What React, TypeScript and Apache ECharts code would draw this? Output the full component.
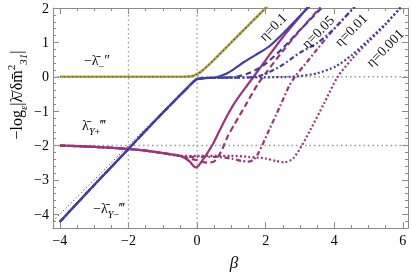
import React, { useEffect, useRef } from 'react';
import * as echarts from 'echarts';

const SERIF = '"Liberation Serif", "DejaVu Serif", serif';
const BLUE = '#3f3fa8';
const PURPLE = '#9e3477';
const OLIVE = '#b3a548';
const OLIVE_DOT = '#5e5630';

// axis ticks
const xTickLabels = [-4, -2, 0, 2, 4, 6];
const xMinorTicks = [-4, -3.5, -3, -2.5, -2, -1.5, -1, -0.5, 0, 0.5, 1, 1.5, 2, 2.5, 3, 3.5, 4, 4.5, 5, 5.5, 6];
const yTickLabels = [-4, -3, -2, -1, 0, 1, 2];
const yMinorTicks = [-4.4, -4.2, -4, -3.8, -3.6, -3.4, -3.2, -3, -2.8, -2.6, -2.4, -2.2, -2, -1.8, -1.6, -1.4, -1.2, -1, -0.8, -0.6, -0.4, -0.2, 0, 0.2, 0.4, 0.6, 0.8, 1, 1.2, 1.4, 1.6, 1.8, 2];

// -lambda_- (olive)
const oliveBeta = [-4, -1, -0.4, -0.2, -0.1, 0, 0.1, 0.2, 0.3, 0.5, 1, 1.5, 2.05];
const oliveVal = [0, 0, 0, 0.01, 0.03, 0.08, 0.14, 0.22, 0.31, 0.5, 1.0, 1.5, 2.05];

// -lambda_Y- (blue), shared left branch
const blueBaseBeta = [-4, -3, -2, -1.5, -1, -0.5, -0.3, -0.2, -0.1, 0, 0.2, 0.5];
const blueBaseVal = [-4.22, -3.15, -2.1, -1.57, -1.05, -0.54, -0.34, -0.24, -0.14, -0.07, -0.04, -0.03];
// right branches per eta
const blueEta01Beta = [0.7, 0.88, 1.1, 1.37, 1.7, 2.1, 2.5, 3.0, 3.3];
const blueEta01Val = [0.03, 0.1, 0.24, 0.43, 0.63, 0.88, 1.25, 1.77, 2.07];
const blueEta005Beta = [1.0, 1.2, 1.5, 1.75, 2.0, 2.5, 3.0, 3.68];
const blueEta005Val = [-0.02, 0.01, 0.1, 0.22, 0.38, 0.83, 1.36, 2.05];
const blueEta001Beta = [1.5, 1.8, 2.1, 2.5, 3.0, 3.5, 4.0, 4.6];
const blueEta001Val = [-0.02, 0.02, 0.13, 0.35, 0.7, 0.98, 1.4, 2.05];
const blueEta0001Beta = [2.5, 3.0, 3.5, 4.04, 4.5, 5.0, 5.5, 5.95];
const blueEta0001Val = [-0.01, 0.02, 0.1, 0.3, 0.62, 1.07, 1.55, 2.03];

// lambda_Y+ (purple), shared left branch
const purpleBaseBeta = [-4, -3, -2, -1.5, -1, -0.5];
const purpleBaseVal = [-2.0, -2.04, -2.1, -2.15, -2.22, -2.3];
const purpleEta01Beta = [-0.4, -0.3, -0.2, -0.1, -0.03, 0.05, 0.15, 0.3, 0.45, 0.65, 0.88, 1.1, 1.4, 1.65, 2.1, 2.5, 3.0, 3.22];
const purpleEta01Val = [-2.34, -2.4, -2.48, -2.6, -2.64, -2.58, -2.44, -2.22, -1.98, -1.58, -1.13, -0.75, -0.33, 0.0, 0.62, 1.15, 1.75, 2.02];
const purpleEta005Beta = [-0.3, 0, 0.3, 0.5, 0.7, 0.9, 1.08, 1.4, 1.76, 2.0, 2.5, 3.0, 3.6];
const purpleEta005Val = [-2.36, -2.43, -2.5, -2.46, -2.18, -1.72, -1.4, -0.85, -0.23, 0.1, 0.75, 1.35, 2.02];
const purpleEta001Beta = [0, 0.5, 1.0, 1.3, 1.5, 1.66, 1.8, 2.1, 2.4, 2.68, 2.85, 3.1, 3.5, 4.0, 4.6];
const purpleEta001Val = [-2.33, -2.33, -2.38, -2.45, -2.47, -2.4, -2.2, -1.55, -0.9, -0.28, 0.0, 0.3, 0.8, 1.4, 2.03];
const purpleEta0001Beta = [0, 1.0, 1.5, 2.0, 2.3, 2.55, 2.8, 3.07, 3.3, 3.7, 4.09, 4.5, 5.0, 5.5, 5.93];
const purpleEta0001Val = [-2.3, -2.3, -2.33, -2.38, -2.45, -2.49, -2.38, -1.98, -1.55, -0.78, -0.02, 0.5, 1.02, 1.52, 2.02];

// reference lines
const diagBeta = [-4.2, 2.2];
const guideX = [-2, 0];
const guideY = [-2, 0];

const X_MIN = -4.2, X_MAX = 6.15, Y_MIN = -4.4, Y_MAX = 2;

const zip = (xs: number[], ys: number[]) => xs.map((x, i) => [x, ys[i]]);
const minus = (v: any) => String(v).replace('-', '\u2212');

export default function App() {
  const ref = useRef<HTMLDivElement>(null);
  useEffect(() => {
    if (!ref.current) return;
    const chart = echarts.init(ref.current, undefined, { renderer: 'svg' });

    const axisBase = (pos: string, major: boolean, labels: boolean, vals: number[], isX: boolean) => ({
      type: 'value',
      position: pos,
      min: isX ? X_MIN : Y_MIN,
      max: isX ? X_MAX : Y_MAX,
      splitLine: { show: false },
      axisLine: { show: major, onZero: false, lineStyle: { color: '#8a8a8a', width: 1 } },
      axisTick: {
        show: true,
        inside: true,
        length: major ? 6 : 3,
        customValues: vals,
        lineStyle: { color: '#8a8a8a', width: 1 },
      },
      axisLabel: labels
        ? {
            show: true,
            customValues: vals,
            formatter: minus,
            fontFamily: SERIF,
            fontSize: 14,
            color: '#000',
            margin: isX ? 5 : 4,
          }
        : { show: false },
    });

    const line = (data: number[][], color: string, type: any, width = 2.2, z = 2) => ({
      type: 'line',
      data,
      showSymbol: false,
      symbol: 'none',
      smooth: 0.25,
      clip: true,
      z,
      lineStyle: { color, type, width, cap: 'butt' },
      silent: true,
    });

    const guide = (data: number[][]) => ({
      type: 'line',
      data,
      showSymbol: false,
      symbol: 'none',
      z: 1,
      lineStyle: { color: '#9a9a9a', type: [1.5, 3], width: 1.3 },
      silent: true,
    });

    const dashed = [6, 3.5];
    const dashdot = [5, 2.5, 1.8, 2.5];
    const dotted = [2, 2.2];

    const series: any[] = [
      ...guideX.map((g) => guide([[g, Y_MIN], [g, Y_MAX]])),
      ...guideY.map((g) => guide([[X_MIN, g], [X_MAX, g]])),
      {
        type: 'line',
        data: zip(diagBeta, diagBeta),
        showSymbol: false,
        symbol: 'none',
        z: 1,
        lineStyle: { color: '#444', type: [1.2, 2.4], width: 1 },
        silent: true,
      },
      line(zip([...purpleBaseBeta, ...purpleEta0001Beta], [...purpleBaseVal, ...purpleEta0001Val]), PURPLE, dotted),
      line(zip([...purpleBaseBeta, ...purpleEta001Beta], [...purpleBaseVal, ...purpleEta001Val]), PURPLE, dashdot),
      line(zip([...purpleBaseBeta, ...purpleEta005Beta], [...purpleBaseVal, ...purpleEta005Val]), PURPLE, dashed),
      line(zip([...purpleBaseBeta, ...purpleEta01Beta], [...purpleBaseVal, ...purpleEta01Val]), PURPLE, 'solid'),
      line(zip([...blueBaseBeta, ...blueEta0001Beta], [...blueBaseVal, ...blueEta0001Val]), BLUE, dotted, 2.2, 3),
      line(zip([...blueBaseBeta, ...blueEta001Beta], [...blueBaseVal, ...blueEta001Val]), BLUE, dashdot, 2.2, 3),
      line(zip([...blueBaseBeta, ...blueEta005Beta], [...blueBaseVal, ...blueEta005Val]), BLUE, dashed, 2.2, 3),
      line(zip([...blueBaseBeta, ...blueEta01Beta], [...blueBaseVal, ...blueEta01Val]), BLUE, 'solid', 2.2, 3),
      line(zip(oliveBeta, oliveVal), OLIVE, 'solid', 2.6, 4),
      line(zip(oliveBeta, oliveVal), OLIVE_DOT, [1.6, 2.4], 1.2, 5),
    ];

    const n = { fontFamily: SERIF, fontSize: 14, color: '#111', verticalAlign: 'bottom', padding: [0, 0, 4, 0] };
    const sub = { fontFamily: SERIF, fontSize: 10, color: '#111', verticalAlign: 'bottom', padding: [0, 0, 0, 0] };
    const subI = { ...sub, fontStyle: 'italic' };
    const rich = { n, sub, subI };

    const etaLabel = (text: string, x: number, y: number) => ({
      type: 'text',
      x,
      y,
      rotation: Math.PI / 4,
      style: { text, fontFamily: SERIF, fontSize: 14, fill: '#111', align: 'center', verticalAlign: 'middle' },
      z: 10,
    });

    chart.setOption({
      animation: false,
      grid: { left: 53, right: 3, top: 8, bottom: 45, containLabel: false },
      xAxis: [
        axisBase('bottom', true, true, xTickLabels, true),
        axisBase('bottom', false, false, xMinorTicks, true),
        axisBase('top', true, false, xTickLabels, true),
        axisBase('top', false, false, xMinorTicks, true),
      ],
      yAxis: [
        axisBase('left', true, true, yTickLabels, false),
        axisBase('left', false, false, yMinorTicks, false),
        axisBase('right', true, false, yTickLabels, false),
        axisBase('right', false, false, yMinorTicks, false),
      ],
      series,
      graphic: [
        {
          type: 'text',
          x: 97,
          y: 62,
          style: { text: '{n|\u2212\u03BB\u0304}{sub|\u2212}{n|\u2033}', rich, align: 'center', verticalAlign: 'middle' },
          z: 10,
        },
        {
          type: 'text',
          x: 94,
          y: 127,
          style: { text: '{n|\u03BB\u0304}{subI|Y}{sub|+}{n|\u2034}', rich, align: 'center', verticalAlign: 'middle' },
          z: 10,
        },
        {
          type: 'text',
          x: 109,
          y: 210,
          style: { text: '{n|\u2212\u03BB\u0304}{subI|Y}{sub|\u2212}{n|\u2034}', rich, align: 'center', verticalAlign: 'middle' },
          z: 10,
        },
        etaLabel('\u03B7=0.1', 273, 27),
        etaLabel('\u03B7=0.05', 318, 32),
        etaLabel('\u03B7=0.01', 351, 30),
        etaLabel('\u03B7=0.001', 385, 48),
        {
          type: 'text',
          x: 234,
          y: 262,
          style: { text: '\u03B2', fontFamily: SERIF, fontSize: 17, fontStyle: 'italic', fill: '#111', align: 'center', verticalAlign: 'middle' },
        },
        {
          type: 'text',
          x: 17,
          y: 95,
          rotation: Math.PI / 2,
          style: {
            text: '{a|\u2212log}{s|\u03B5}{a||\u03BB\u0304/\u03B4m\u0304}{p|2}{s|31}{a||}',
            rich: {
              a: { fontFamily: SERIF, fontSize: 16, color: '#111', verticalAlign: 'bottom', padding: [0, 0, 4, 0] },
              s: { fontFamily: SERIF, fontSize: 11, color: '#111', verticalAlign: 'bottom', fontStyle: 'italic' },
              p: { fontFamily: SERIF, fontSize: 11, color: '#111', verticalAlign: 'bottom', padding: [0, 0, 12, 0] },
            },
            align: 'center',
            verticalAlign: 'middle',
          },
        },
      ],
    });
    return () => chart.dispose();
  }, []);
  return <div ref={ref} style={{ position: 'fixed', left: 0, top: 0, width: 411, height: 273 }} />;
}
